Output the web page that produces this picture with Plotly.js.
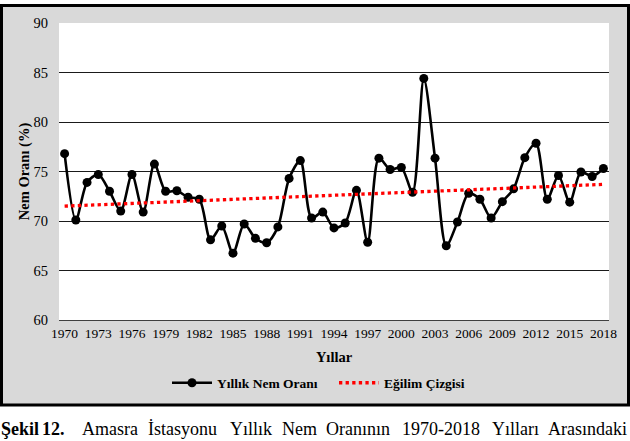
<!DOCTYPE html>
<html>
<head>
<meta charset="utf-8">
<script src="https://cdn.plot.ly/plotly-3.0.1.min.js"></script>
<style>html,body{margin:0;padding:0;background:#fff;}#chart{width:630px;height:441px;}</style>
</head>
<body>
<div id="chart"></div>
<script>
const years = [1970,1971,1972,1973,1974,1975,1976,1977,1978,1979,1980,1981,1982,1983,1984,1985,1986,1987,1988,1989,1990,1991,1992,1993,1994,1995,1996,1997,1998,1999,2000,2001,2002,2003,2004,2005,2006,2007,2008,2009,2010,2011,2012,2013,2014,2015,2016,2017,2018];
const humidity = [76.8,70.1,73.9,74.7,73.0,71.0,74.7,70.9,75.75,73.0,73.05,72.4,72.2,68.1,69.5,66.75,69.7,68.25,67.8,69.4,74.3,76.1,70.3,70.9,69.3,69.8,73.1,67.85,76.35,75.2,75.4,72.9,84.4,76.35,67.5,69.9,72.8,72.2,70.3,71.95,73.25,76.4,77.85,72.2,74.6,71.9,74.95,74.5,75.3];
const trendYears = [1970, 2018];
const trendValues = [71.5, 73.7];
const tickYears = [1970,1973,1976,1979,1982,1985,1988,1991,1994,1997,2000,2003,2006,2009,2012,2015,2018];
const tickLabels = tickYears.map(String);
const yTicks = [60,65,70,75,80,85,90];
const captionWords = ["Şekil","12.","Amasra","İstasyonu","Yıllık","Nem","Oranının","1970-2018","Yılları","Arasındaki"];

const W = 630, H = 441, ML = 59, MR = 21, MT = 23, MB = 121;
const PW = W - ML - MR, PH = H - MT - MB;
const px = x => (x - ML) / PW;
const py = y => (H - MB - y) / PH;
const serif = "Liberation Serif";

const captionX = [0, 41, 81, 147, 229, 281, 325, 401, 491, 547];
const annotations = captionWords.map((w, i) => ({
  text: i < 2 ? '<b>' + w + '</b>' : w,
  xref: 'paper', yref: 'paper', x: px(captionX[i]), y: py(429),
  xanchor: 'left', yanchor: 'middle', showarrow: false, borderpad: 0,
  font: {family: serif, size: 18, color: '#000'}
}));

const traces = [
  {x: years, y: humidity, type: 'scatter', mode: 'lines+markers', name: 'Yıllık Nem Oranı',
   line: {color: '#000', width: 2.6, shape: 'spline', smoothing: 0.8},
   marker: {color: '#000', size: 9}},
  {x: trendYears, y: trendValues, type: 'scatter', mode: 'lines', name: 'Eğilim Çizgisi',
   line: {color: '#ff0000', width: 3.3, dash: 'dot'}}
];

const layout = {
  width: W, height: H,
  margin: {l: ML, r: MR, t: MT, b: MB, pad: 0},
  paper_bgcolor: '#ffffff', plot_bgcolor: 'rgba(0,0,0,0)',
  font: {family: serif, color: '#000'},
  showlegend: true,
  legend: {orientation: 'h', x: px(334), xanchor: 'center', y: py(383), yanchor: 'middle',
    itemwidth: 40, entrywidth: 112, entrywidthmode: 'pixels',
    font: {family: serif, size: 13.5, color: '#000', weight: 'bold'}, bgcolor: 'rgba(0,0,0,0)'},
  xaxis: {range: [1969.5, 2018.5], tickvals: tickYears, ticktext: tickLabels, showgrid: false,
    zeroline: false, showline: true, linecolor: '#404040', linewidth: 1,
    ticks: 'outside', ticklen: 1, tickcolor: 'rgba(0,0,0,0)',
    tickfont: {family: serif, size: 13.5, color: '#000'},
    title: {text: '<b>Yıllar</b>', font: {family: serif, size: 14.5, color: '#000'}, standoff: 11}},
  yaxis: {range: [60, 90], tickvals: yTicks, showgrid: true, gridcolor: '#1a1a1a', gridwidth: 1,
    zeroline: false, showline: false, ticks: 'outside', ticklen: 7, tickcolor: 'rgba(0,0,0,0)',
    tickfont: {family: serif, size: 14.5, color: '#000'},
    title: {text: '<b>Nem Oranı (%)</b>', font: {family: serif, size: 14.5, color: '#000'}, standoff: 0}},
  shapes: [
    {type: 'rect', xref: 'paper', yref: 'paper', layer: 'below',
     x0: px(1.5), x1: px(628.5), y0: py(405), y1: py(5.5),
     fillcolor: '#d9d9d9', line: {color: '#000', width: 3}},
    {type: 'rect', xref: 'paper', yref: 'paper', layer: 'below',
     x0: 0, x1: 1, y0: 0, y1: 1, fillcolor: '#ffffff', line: {width: 0}}
  ],
  annotations: annotations
};

Plotly.newPlot('chart', traces, layout, {displayModeBar: false, staticPlot: true});
</script>
</body>
</html>
